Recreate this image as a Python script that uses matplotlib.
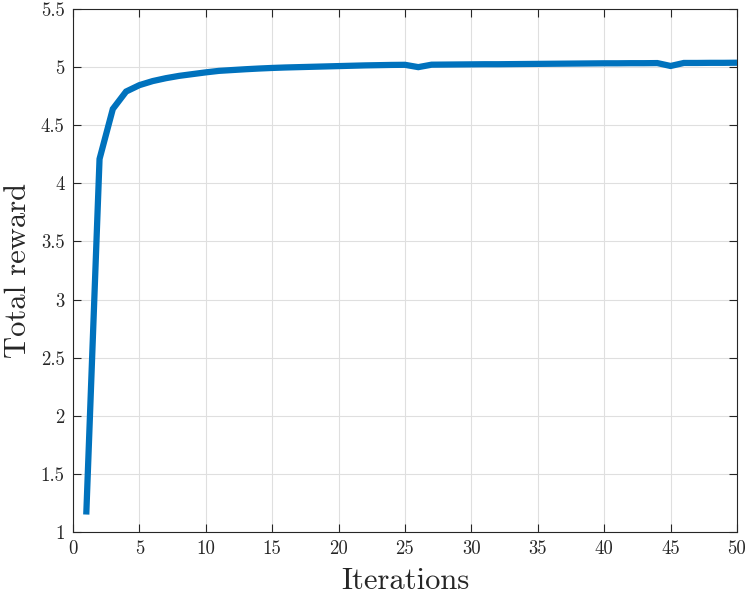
import matplotlib
matplotlib.use('Agg')
import matplotlib.pyplot as plt
import numpy as np

# iteration index and total reward
iterations = list(range(1, 51))
reward = [1.15, 4.21, 4.64, 4.79, 4.845, 4.88, 4.905, 4.925, 4.94, 4.955,
          4.968, 4.975, 4.982, 4.988, 4.993, 4.997, 5.0, 5.003, 5.006, 5.009,
          5.012, 5.015, 5.017, 5.019, 5.02, 5.0, 5.021, 5.022, 5.023, 5.024,
          5.025, 5.025, 5.026, 5.027, 5.028, 5.029, 5.03, 5.031, 5.032, 5.033,
          5.033, 5.034, 5.034, 5.035, 5.01, 5.036, 5.036, 5.037, 5.037, 5.038]

x_ticks = [0, 5, 10, 15, 20, 25, 30, 35, 40, 45, 50]
y_ticks = [1, 1.5, 2, 2.5, 3, 3.5, 4, 4.5, 5, 5.5]

plt.rcParams['font.family'] = 'cmr10'
plt.rcParams['axes.formatter.use_mathtext'] = True
plt.rcParams['mathtext.fontset'] = 'cm'

fig = plt.figure(figsize=(7.47, 5.94), dpi=100)
ax = fig.add_axes([0.0977, 0.1044, 0.8889, 0.8804])

ax.plot(iterations, reward, color='#0072BD', linewidth=4.5,
        solid_capstyle='butt', solid_joinstyle='miter', zorder=3)

ax.set_xlim(0, 50)
ax.set_ylim(1, 5.5)
ax.set_xticks(x_ticks)
ax.set_yticks(y_ticks)
ax.set_xticklabels([str(t) for t in x_ticks])
ax.set_yticklabels(['%g' % t for t in y_ticks])

# matlab-ish look: light grid, inward ticks on every side
ax.grid(True, color='#DFDFDF', linewidth=0.8, zorder=0)
for s in ax.spines.values():
    s.set_color('#262626')
    s.set_linewidth(0.8)
ax.tick_params(direction='in', length=5.5, width=0.8, color='#262626',
               top=True, right=True, labelsize=13.5, labelcolor='#262626', pad=6)

ax.set_xlabel('Iterations', fontsize=22, color='#262626', labelpad=7)
ax.set_ylabel('Total reward', fontsize=22, color='#262626', labelpad=6)

fig.savefig('out.png', dpi=100)
